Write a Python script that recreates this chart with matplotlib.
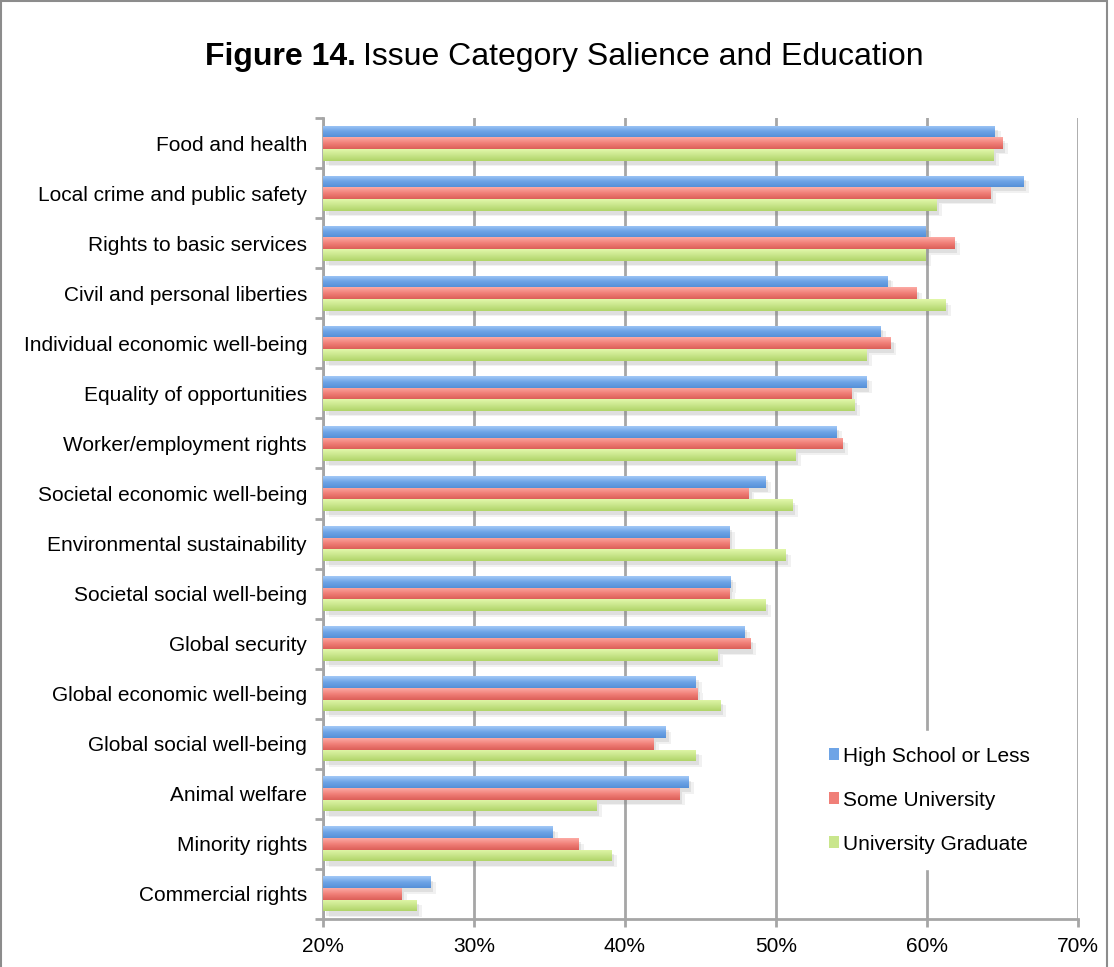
import numpy as np
import matplotlib
matplotlib.use("Agg")
import matplotlib.pyplot as plt
import matplotlib.patheffects as pe
from matplotlib.patches import Rectangle

plt.rcParams['font.family'] = ['Liberation Sans', 'DejaVu Sans']

categories = [
    "Food and health", "Local crime and public safety", "Rights to basic services",
    "Civil and personal liberties", "Individual economic well-being",
    "Equality of opportunities", "Worker/employment rights",
    "Societal economic well-being", "Environmental sustainability",
    "Societal social well-being", "Global security", "Global economic well-being",
    "Global social well-being", "Animal welfare", "Minority rights", "Commercial rights",
]
high_school = [64.5, 66.4, 59.9, 57.4, 56.9, 56.0, 54.0, 49.3, 46.9, 47.0, 47.9, 44.7, 42.7, 44.2, 35.2, 27.1]
some_univ = [65.0, 64.2, 61.8, 59.3, 57.6, 55.0, 54.4, 48.2, 46.9, 46.9, 48.3, 44.8, 41.9, 43.6, 36.9, 25.2]
univ_grad = [64.4, 60.6, 59.9, 61.2, 56.0, 55.2, 51.3, 51.1, 50.6, 49.3, 46.1, 46.3, 44.7, 38.1, 39.1, 26.2]

series = [
    ("High School or Less", high_school, ("#a3c9f7", "#6ea4e6", "#5590d8")),
    ("Some University", some_univ, ("#fcaaa4", "#f07f78", "#dc5f58")),
    ("University Graduate", univ_grad, ("#e2f8aa", "#c9e68c", "#b0d468")),
]

fig = plt.figure(figsize=(11.14, 9.67), dpi=100)
ax = fig.add_axes([323 / 1114, 1 - 919 / 967, (1078 - 323) / 1114, (919 - 118) / 967])

y = np.arange(len(categories))
h = 0.233
grid_col = "#a6a6a6"

shadow = [pe.SimplePatchShadow(offset=(4, -4), shadow_rgbFace="#777777", alpha=0.10),
          pe.SimplePatchShadow(offset=(2, -3), shadow_rgbFace="#777777", alpha=0.14),
          pe.Normal()]

for i, (name, vals, (top, mid, bot)) in enumerate(series):
    offs = y + (i - 1) * h
    bars = ax.barh(offs, [v - 20 for v in vals], left=20, height=h, color=mid,
                   label=name, zorder=3, linewidth=0)
    # vertical gradient on each bar
    cols = np.array([matplotlib.colors.to_rgb(c) for c in (top, mid, bot)])
    img = np.stack([np.interp(np.linspace(0, 2, 40), [0, 1, 2], cols[:, k]) for k in range(3)], axis=-1)
    img = img[:, None, :]
    for b in bars:
        b.set_path_effects(shadow)
        x0, yb, w, hh = b.get_x(), b.get_y(), b.get_width(), b.get_height()
        im = ax.imshow(img, extent=(x0, x0 + w, yb + hh, yb), aspect="auto",
                       origin="upper", zorder=3.5, interpolation="bilinear")
        im.set_clip_path(b)

ax.set_xlim(20, 70)
ax.set_ylim(len(categories) - 0.5, -0.5)
ax.set_aspect("auto")

ax.set_xticks(np.arange(20, 71, 10))
ax.set_xticklabels([f"{v}%" for v in range(20, 71, 10)])
ax.set_yticks(y)
ax.set_yticklabels(categories)
ax.set_yticks(np.arange(-0.5, len(categories), 1), minor=True)
ax.tick_params(axis="y", which="major", length=0, pad=11.5, labelsize=15)
ax.tick_params(axis="y", which="minor", length=6, width=2, color=grid_col)
ax.tick_params(axis="x", length=6, width=2, color=grid_col, labelsize=15, pad=7)

ax.xaxis.grid(True, color=grid_col, linewidth=2, zorder=0)
ax.set_axisbelow(True)
for s in ("top", "right"):
    ax.spines[s].set_visible(False)
for s in ("left", "bottom"):
    ax.spines[s].set_color(grid_col)
    ax.spines[s].set_linewidth(2)

leg = ax.legend(loc="upper left", bbox_to_anchor=(813 / 1114, 1 - 731 / 967),
                bbox_transform=fig.transFigure, frameon=True, fontsize=15,
                handlelength=0.5, handleheight=0.5, handletextpad=0.2,
                labelspacing=1.2, borderpad=0.75, borderaxespad=0)
leg.get_frame().set_edgecolor("white")
leg.get_frame().set_facecolor("white")
leg.get_frame().set_alpha(1)
leg.set_zorder(5)
for hnd in leg.legend_handles:
    hnd.set_path_effects([])

# title: bold figure number followed by regular text
t1 = fig.text(205 / 1114, 1 - 57 / 967, "Figure 14.", fontsize=23, fontweight="bold", va="center")
fig.canvas.draw()
bb = t1.get_window_extent()
fig.text((bb.x1 + 7) / 1114, 1 - 57 / 967, "Issue Category Salience and Education", fontsize=23, va="center")

fig.patches.append(Rectangle((1 / 1114, -0.01), 1106 / 1114, 1.0 - 1 / 967 + 0.01,
                             transform=fig.transFigure, fill=False, edgecolor="#8c8c8c", linewidth=1.5))

fig.savefig("out.png", dpi=100)
